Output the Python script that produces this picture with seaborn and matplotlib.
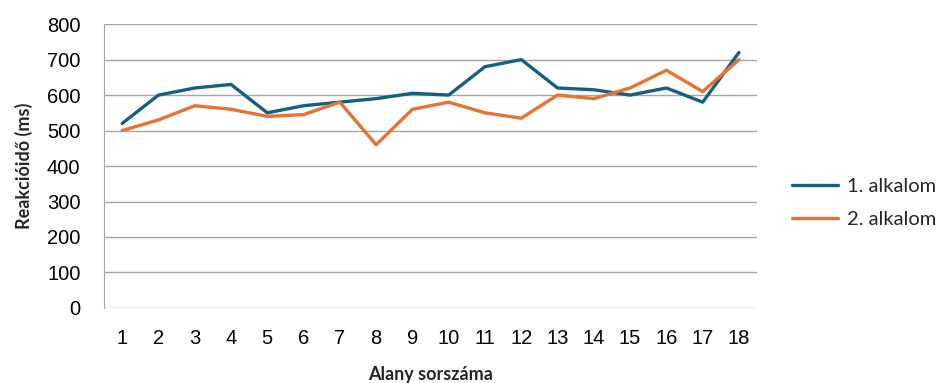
import matplotlib
matplotlib.use("Agg")
import matplotlib.pyplot as plt
import seaborn as sns
import pandas as pd

# subject numbers and reaction times
subjects = list(range(1, 19))
first_run = [520, 600, 620, 630, 550, 570, 580, 590, 605, 600, 680, 700, 620, 615, 600, 620, 580, 720]
second_run = [500, 530, 570, 560, 540, 545, 580, 460, 560, 580, 550, 535, 600, 590, 620, 670, 610, 700]
series_names = ["1. alkalom", "2. alkalom"]

df = pd.DataFrame({
    "Alany": subjects * 2,
    "Reakcióidő": first_run + second_run,
    "Sorozat": [series_names[0]] * len(subjects) + [series_names[1]] * len(subjects),
})

sns.set_style("white")
plt.rcParams["font.family"] = ["Liberation Sans", "DejaVu Sans"]
title_font = ["Lato", "DejaVu Sans"]

fig = plt.figure(figsize=(9.37, 3.83), dpi=100)
ax = fig.add_axes([0.111, 0.196, 0.697, 0.741])

sns.lineplot(data=df, x="Alany", y="Reakcióidő", hue="Sorozat",
             palette=["#156082", "#E97132"], linewidth=2.4, ax=ax, legend=True)

ax.set_xlim(0.5, 18.5)
ax.set_ylim(0, 800)
ax.set_xticks(subjects)
ax.set_yticks(range(0, 801, 100))
ax.yaxis.grid(True, color="#a6a6a6", linewidth=1)
ax.set_axisbelow(True)
for side in ["top", "right", "bottom"]:
    ax.spines[side].set_visible(False)
ax.spines["left"].set_color("#a6a6a6")
ax.tick_params(axis="both", length=0, labelsize=14.5, colors="black")
ax.tick_params(axis="y", pad=17)
ax.tick_params(axis="x", pad=15)

ax.set_xlabel("Alany sorszáma", fontsize=13, fontweight="bold",
              family=title_font, labelpad=13)
ax.set_ylabel("Reakcióidő (ms)", fontsize=13, fontweight="bold",
              family=title_font, labelpad=10)

handles, labels = ax.get_legend_handles_labels()
leg = ax.legend(handles, labels, loc="center left", bbox_to_anchor=(0.845, 0.47),
                bbox_transform=fig.transFigure, frameon=False,
                prop={"family": title_font, "size": 14.5},
                handlelength=2.3, handletextpad=0.45, labelspacing=0.75,
                borderaxespad=0, borderpad=0)

fig.savefig("out.png", dpi=100)
